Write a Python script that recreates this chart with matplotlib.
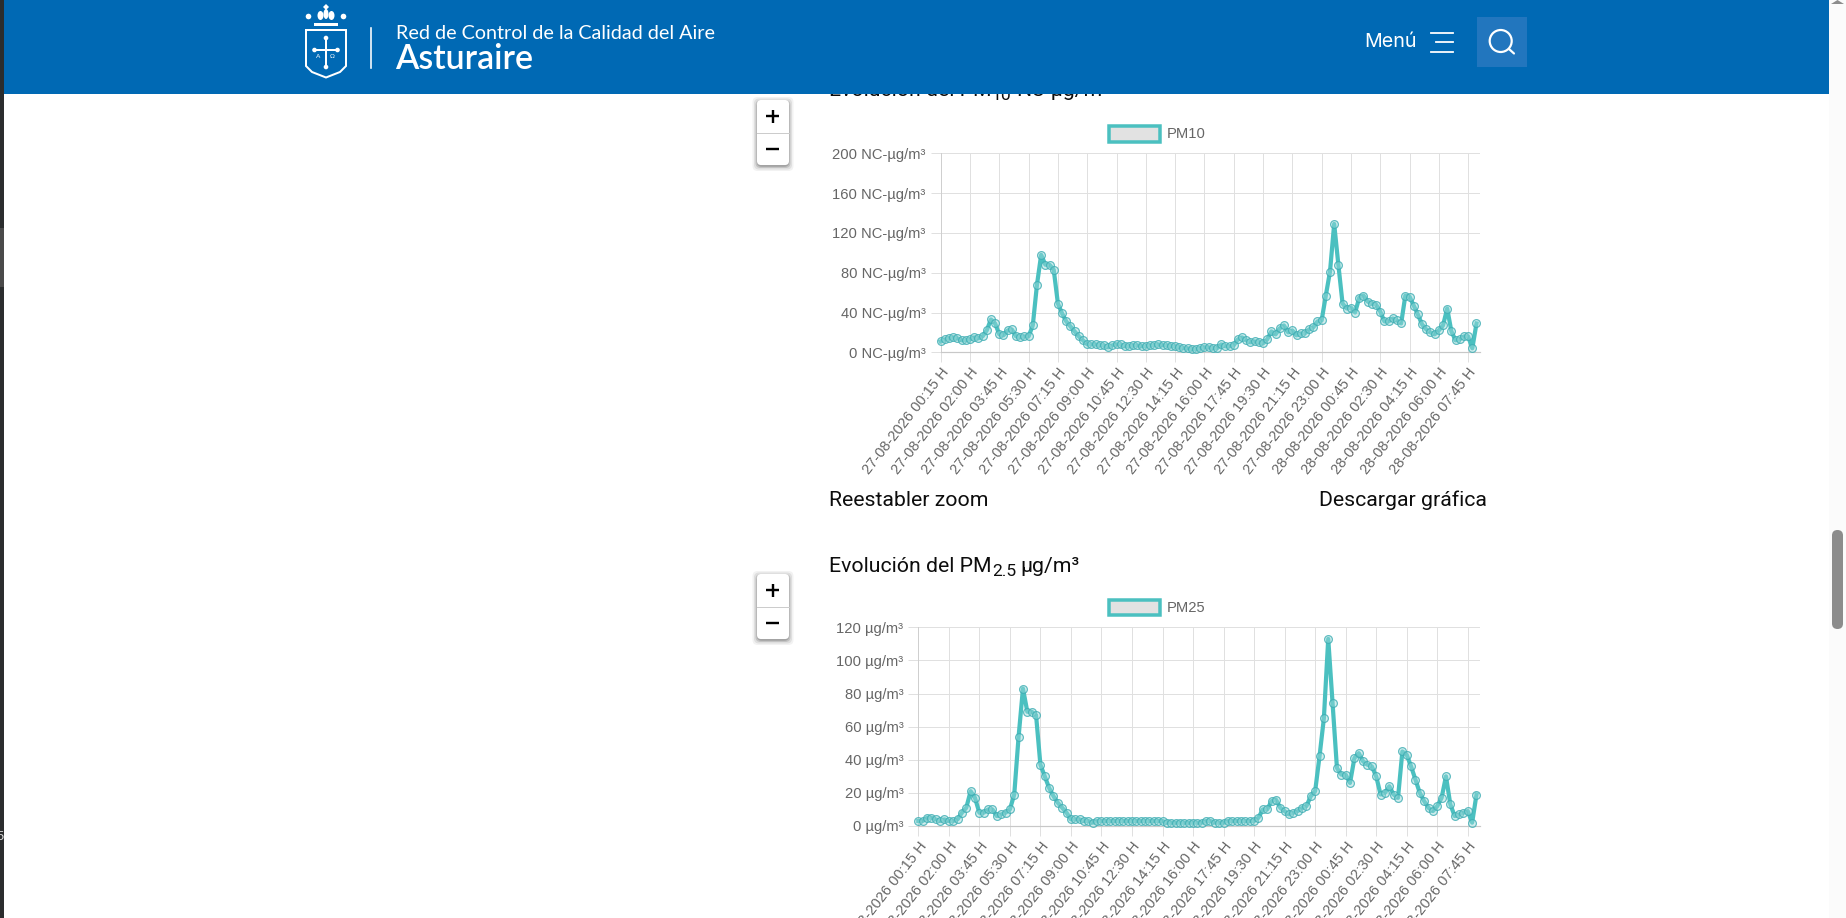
# Calidad del aire - Asturaire, PM10 and PM2.5 charts
import matplotlib
matplotlib.use("Agg")
import matplotlib.pyplot as plt
from matplotlib.patches import Rectangle, FancyBboxPatch, Circle, Polygon, Ellipse

WIDTH = 1846
HEIGHT = 918
DPI = 100

# every 7th time stamp gets a label
tickLabels = [
    "27-08-2026 00:15 H", "27-08-2026 02:00 H", "27-08-2026 03:45 H", "27-08-2026 05:30 H",
    "27-08-2026 07:15 H", "27-08-2026 09:00 H", "27-08-2026 10:45 H", "27-08-2026 12:30 H",
    "27-08-2026 14:15 H", "27-08-2026 16:00 H", "27-08-2026 17:45 H", "27-08-2026 19:30 H",
    "27-08-2026 21:15 H", "27-08-2026 23:00 H", "28-08-2026 00:45 H", "28-08-2026 02:30 H",
    "28-08-2026 04:15 H", "28-08-2026 06:00 H", "28-08-2026 07:45 H",
]

pm10 = [
    11, 13, 14, 15, 14, 12, 12, 13, 15, 14, 16, 22, 33, 29, 18, 17, 22, 23, 16, 15,
    16, 16, 27, 68, 98, 88, 88, 83, 49, 39, 31, 26, 21, 16, 12, 8, 8, 8, 7, 7,
    5, 7, 8, 8, 6, 6, 7, 7, 6, 6, 7, 7, 8, 7, 7, 6, 6, 5, 4, 4,
    3, 3, 4, 5, 5, 4, 4, 8, 6, 6, 7, 13, 15, 12, 10, 11, 10, 9, 13, 21,
    18, 24, 27, 20, 22, 17, 19, 19, 23, 25, 31, 32, 57, 81, 129, 88, 49, 44, 45, 40,
    55, 57, 51, 49, 48, 41, 31, 31, 34, 32, 29, 57, 56, 47, 38, 28, 23, 20, 18, 22,
    27, 44, 21, 12, 13, 16, 16, 4, 29,
]

pm25 = [
    3, 3, 5, 5, 4, 3, 4, 3, 3, 4, 8, 11, 21, 17, 8, 8, 10, 10, 6, 7,
    8, 10, 19, 54, 83, 69, 69, 67, 37, 30, 23, 18, 14, 11, 8, 4, 4, 4, 3, 3,
    2, 3, 3, 3, 3, 3, 3, 3, 3, 3, 3, 3, 3, 3, 3, 3, 3, 2, 2, 2,
    2, 2, 2, 2, 2, 2, 3, 3, 2, 2, 2, 3, 3, 3, 3, 3, 3, 3, 5, 10,
    10, 15, 16, 11, 9, 7, 8, 9, 11, 12, 18, 21, 42, 65, 113, 74, 35, 31, 31, 26,
    41, 44, 39, 37, 36, 30, 19, 20, 24, 19, 17, 45, 43, 36, 28, 20, 15, 11, 9, 12,
    17, 30, 13, 6, 7, 8, 9, 2, 19,
]

yTicksPm10 = [0, 40, 80, 120, 160, 200]
yLabelsPm10 = ["0 NC-µg/m³", "40 NC-µg/m³", "80 NC-µg/m³", "120 NC-µg/m³", "160 NC-µg/m³", "200 NC-µg/m³"]
yTicksPm25 = [0, 20, 40, 60, 80, 100, 120]
yLabelsPm25 = ["0 µg/m³", "20 µg/m³", "40 µg/m³", "60 µg/m³", "80 µg/m³", "100 µg/m³", "120 µg/m³"]

BLUE = "#0069B4"
TEAL = (75 / 255, 192 / 255, 192 / 255)
TICK_GREY = "#666666"
GRID = "#e0e0e0"
INK = "#0d0d0d"


def px(value):
    # pixels to points
    return value * 72 / DPI


fig = plt.figure(figsize=(WIDTH / DPI, HEIGHT / DPI), dpi=DPI, facecolor="white")


def addChart(series, left, top, bottom, yTicks, yLabels, yMax):
    right = 1480
    ax = fig.add_axes([left / WIDTH, 1 - bottom / HEIGHT, (right - left) / WIDTH, (bottom - top) / HEIGHT])
    step = (1476.5 - left) / (len(series) - 1)
    ax.set_xlim(0, (right - left) / step)
    ax.set_ylim(0, yMax)
    ax.plot(range(len(series)), series, color=TEAL, linewidth=px(4.2), clip_on=False, zorder=3,
            solid_joinstyle="round", marker="o", markersize=px(7.8),
            markerfacecolor=(0.6, 0.85, 0.85, 0.45), markeredgecolor=(0.24, 0.68, 0.7, 0.8),
            markeredgewidth=px(1.2))
    ax.set_xticks(range(0, 7 * len(tickLabels), 7))
    ax.set_xticklabels(tickLabels, rotation=52, ha="right", va="top", rotation_mode="anchor",
                       fontsize=px(14.6), color=TICK_GREY, family="Liberation Sans")
    ax.set_yticks(yTicks)
    ax.set_yticklabels(yLabels, fontsize=px(14.8), color=TICK_GREY, family="Liberation Sans")
    ax.tick_params(axis="both", length=px(10), width=px(1), color=GRID, pad=px(5))
    ax.tick_params(axis="x", pad=px(3))
    ax.grid(True, color=GRID, linewidth=px(1))
    ax.set_axisbelow(True)
    for side in ["top", "right"]:
        ax.spines[side].set_visible(False)
    ax.spines["left"].set_color("#cfcfcf")
    ax.spines["bottom"].set_color("#c8c8c8")
    ax.spines["left"].set_linewidth(px(1))
    ax.spines["bottom"].set_linewidth(px(1.2))
    return ax


addChart(pm10, 940.7, 153.3, 352.3, yTicksPm10, yLabelsPm10, 200)
addChart(pm25, 918.3, 627.3, 826, yTicksPm25, yLabelsPm25, 120)

# page furniture, in pixel coordinates
page = fig.add_axes([0, 0, 1, 1], zorder=5)
page.set_xlim(0, WIDTH)
page.set_ylim(HEIGHT, 0)
page.axis("off")
page.patch.set_alpha(0)


def zoomButtons(top):
    left = 757
    w = 32
    h = 65
    for grow, alpha in [(5, 0.05), (3.5, 0.08), (2, 0.12), (0.8, 0.16)]:
        page.add_patch(FancyBboxPatch((left - grow + 0.5, top - grow + 2), w + 2 * grow - 1, h + 2 * grow - 1,
                                      boxstyle="round,pad=0,rounding_size=5", facecolor="black",
                                      edgecolor="none", alpha=alpha))
    page.add_patch(FancyBboxPatch((left, top), w, h, boxstyle="round,pad=0,rounding_size=4",
                                  facecolor="white", edgecolor="none"))
    page.plot([left, left + w], [top + h / 2, top + h / 2], color="#cccccc", linewidth=px(1))
    cx = left + w / 2 - 0.5
    page.plot([cx - 6.5, cx + 6.5], [top + 16, top + 16], color="black", linewidth=px(2.4), solid_capstyle="butt")
    page.plot([cx, cx], [top + 9.5, top + 22.5], color="black", linewidth=px(2.4), solid_capstyle="butt")
    page.plot([cx - 6.5, cx + 6.5], [top + 49, top + 49], color="black", linewidth=px(2.4), solid_capstyle="butt")


def legendBox(left, top, label):
    page.add_patch(Rectangle((left + 1.7, top + 1.7), 50.6, 15.6, facecolor="#e2e2e2",
                             edgecolor=TEAL, linewidth=px(3.5)))
    page.text(left + 59.5, top + 10, label, fontsize=px(14.8), color=TICK_GREY, family="Liberation Sans",
              ha="left", va="center")


def title(y, sub, tail):
    t = page.text(829, y, "Evolución del PM", fontsize=px(21.3), color=INK, family="Roboto", va="baseline")
    fig.canvas.draw()
    box = t.get_window_extent()
    s = page.text(box.x1 + 0.5, y + 4, sub, fontsize=px(17.5), color=INK, family="Roboto", va="baseline")
    box = s.get_window_extent()
    page.text(box.x1 + 4, y, tail, fontsize=px(21.3), color=INK, family="Roboto", va="baseline")


zoomButtons(100)
zoomButtons(574)
legendBox(1107.7, 124.3, "PM10")
legendBox(1107.7, 598, "PM25")
title(96.5, "10", "NC-µg/m³")
title(571.5, "2.5", "µg/m³")
page.text(829, 506, "Reestabler zoom", fontsize=px(21.3), color=INK, family="Roboto", va="baseline")
page.text(1487, 506, "Descargar gráfica", fontsize=px(21.3), color=INK, family="Roboto", va="baseline", ha="right")

# browser edges
page.add_patch(Rectangle((0, 0), 4, HEIGHT, facecolor="#2b2d2e", edgecolor="none"))
page.add_patch(Rectangle((0, 228), 4, 59, facecolor="#4a4a4a", edgecolor="none"))
page.text(-3.5, 837, "5", fontsize=px(13), color="#dddddd", family="Liberation Sans", va="center")
page.add_patch(Rectangle((1829, 0), 17, HEIGHT, facecolor="#fbfbfb", edgecolor="none"))
page.add_patch(Polygon([(1837.5, 0), (1831, 4), (1844, 4)], facecolor="#8c8c8c", edgecolor="none"))
page.add_patch(FancyBboxPatch((1832, 530), 11, 99, boxstyle="round,pad=0,rounding_size=5.5",
                              facecolor="#8c8c8c", edgecolor="none"))

# header bar
page.add_patch(Rectangle((4, 0), 1825, 94, facecolor=BLUE, edgecolor="none", zorder=4))

# crest
crest = dict(zorder=5)
page.add_patch(Polygon([(326, 4), (329, 7), (326, 10), (323, 7)], facecolor="white", edgecolor="none", **crest))
page.add_patch(Circle((308.5, 16.5), 2.8, facecolor="white", edgecolor="none", **crest))
page.add_patch(Circle((343.5, 16.5), 2.8, facecolor="white", edgecolor="none", **crest))
page.add_patch(Ellipse((320.5, 15.5), 6, 9, facecolor="white", edgecolor="none", **crest))
page.add_patch(Ellipse((331.5, 15.5), 6, 9, facecolor="white", edgecolor="none", **crest))
page.add_patch(Ellipse((326, 14), 5, 10, facecolor="white", edgecolor="none", **crest))
page.add_patch(Rectangle((313.5, 23), 24, 3, facecolor="white", edgecolor="none", **crest))
page.add_patch(Polygon([(306, 30), (346, 30), (346, 66), (340, 72), (326, 77.5), (312, 72), (306, 66)],
                       closed=True, facecolor="none", edgecolor="white", linewidth=px(2), **crest))
page.add_patch(Rectangle((324.7, 37), 2.6, 30, facecolor="white", edgecolor="none", **crest))
page.add_patch(Rectangle((314, 48.7), 24, 2.6, facecolor="white", edgecolor="none", **crest))
for cx, cy in [(326, 38), (326, 67), (314.5, 50), (337.5, 50)]:
    page.add_patch(Circle((cx, cy), 2.3, facecolor="white", edgecolor="none", **crest))
page.text(318.5, 56.5, "A", fontsize=px(6.5), color="white", ha="center", va="center", family="Liberation Sans", **crest)
page.text(332.5, 56.5, "Ω", fontsize=px(6.5), color="white", ha="center", va="center", family="Liberation Sans", **crest)
page.plot([370.7, 370.7], [28, 68], color="white", linewidth=px(1.6), zorder=5)

page.text(396, 39, "Red de Control de la Calidad del Aire", fontsize=px(19.8), color="white",
          family="Lato", va="baseline", zorder=5)
page.text(395.5, 69, "Asturaire", fontsize=px(34), color="white", family="Lato", weight="semibold",
          va="baseline", zorder=5)
page.text(1364, 42, "Menú", fontsize=px(19.6), color="white", family="Inter", va="center", zorder=5)

page.plot([1431, 1452.7], [32.5, 32.5], color="white", linewidth=px(1.8), zorder=5)
page.plot([1436, 1452.7], [42, 42], color="white", linewidth=px(1.8), zorder=5)
page.plot([1431, 1452.7], [52, 52], color="white", linewidth=px(1.8), zorder=5)

page.add_patch(Rectangle((1477, 17), 50, 50, facecolor="#2276BE", edgecolor="none", zorder=5))
page.add_patch(Circle((1500.7, 41), 11, facecolor="none", edgecolor="white", linewidth=px(2.2), zorder=6))
page.plot([1509, 1514], [49, 53.5], color="white", linewidth=px(2.2), zorder=6, solid_capstyle="round")

fig.savefig("out.png", dpi=DPI)
